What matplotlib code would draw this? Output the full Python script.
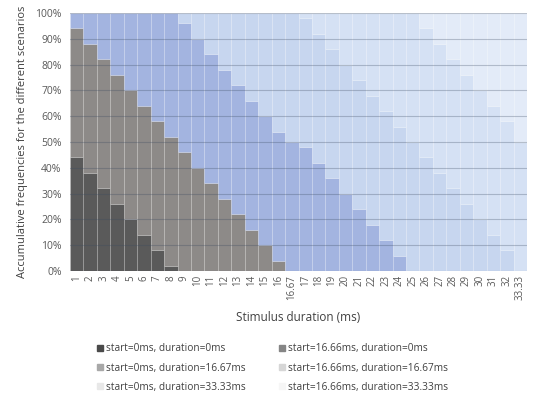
import numpy as np
import matplotlib.pyplot as plt
from matplotlib.patches import Patch
from matplotlib.ticker import FuncFormatter

plt.rcParams['font.family'] = ['Open Sans', 'DejaVu Sans']

durations = ['1', '2', '3', '4', '5', '6', '7', '8', '9', '10', '11', '12', '13', '14', '15', '16',
             '16.67', '17', '18', '19', '20', '21', '22', '23', '24', '25', '26', '27', '28',
             '29', '30', '31', '32', '33.33']

# percent of each scenario per stimulus duration
s0_d0 = [44, 38, 32, 26, 20, 14, 8, 2, 0, 0, 0, 0, 0, 0, 0, 0,
         0, 0, 0, 0, 0, 0, 0, 0, 0, 0, 0, 0, 0, 0, 0, 0, 0, 0]
s16_d0 = [50, 50, 50, 50, 50, 50, 50, 50, 46, 40, 34, 28, 22, 16, 10, 4,
          0, 0, 0, 0, 0, 0, 0, 0, 0, 0, 0, 0, 0, 0, 0, 0, 0, 0]
s0_d16 = [6, 12, 18, 24, 30, 36, 42, 48, 50, 50, 50, 50, 50, 50, 50, 50,
          50, 48, 42, 36, 30, 24, 18, 12, 6, 0, 0, 0, 0, 0, 0, 0, 0, 0]
s16_d16 = [0, 0, 0, 0, 0, 0, 0, 0, 4, 10, 16, 22, 28, 34, 40, 46,
           50, 50, 50, 50, 50, 50, 50, 50, 50, 50, 44, 38, 32, 26, 20, 14, 8, 0]
s0_d33 = [0, 0, 0, 0, 0, 0, 0, 0, 0, 0, 0, 0, 0, 0, 0, 0,
          0, 2, 8, 14, 20, 26, 32, 38, 44, 50, 50, 50, 50, 50, 50, 50, 50, 50]
s16_d33 = [0, 0, 0, 0, 0, 0, 0, 0, 0, 0, 0, 0, 0, 0, 0, 0,
           0, 0, 0, 0, 0, 0, 0, 0, 0, 0, 6, 12, 18, 24, 30, 36, 42, 50]

series = [s0_d0, s16_d0, s0_d16, s16_d16, s0_d33, s16_d33]
names = ['start=0ms, duration=0ms', 'start=16.66ms, duration=0ms',
         'start=0ms, duration=16.67ms', 'start=16.66ms, duration=16.67ms',
         'start=0ms, duration=33.33ms', 'start=16.66ms, duration=33.33ms']
bar_colors = ['#5a5a5a', '#8d8a88', '#a3b4e0', '#c7d6ef', '#d5e1f4', '#e3ebf8']
legend_colors = ['#4a4a4a', '#858585', '#a8a8a8', '#d6d6d6', '#e8e8e8', '#f6f6f6']

fig = plt.figure(figsize=(5.4, 4.03), dpi=100)
ax = fig.add_axes([70/540, 1-271/403, 457/540, 258/403])

x = np.arange(len(durations))
bottom = np.zeros(len(durations))
for vals, c in zip(series, bar_colors):
    ax.bar(x, vals, bottom=bottom, width=1.0, color=c,
           edgecolor=(1, 1, 1, 0.18), linewidth=0.5, zorder=1)
    bottom += np.array(vals)

ax.set_xlim(-0.5, len(durations) - 0.5)
ax.set_ylim(0, 100)
ax.set_yticks(np.arange(0, 101, 10))
ax.yaxis.set_major_formatter(FuncFormatter(lambda v, p: '%d%%' % v))
ax.set_xticks(x)
ax.set_xticklabels(durations, rotation=90, fontsize=7)
ax.tick_params(axis='y', labelsize=7.5, length=0, pad=6, colors='#595959')
ax.tick_params(axis='x', length=0, pad=3, colors='#595959')
for yv in np.arange(0, 101, 10):
    ax.axhline(yv, color='#3c4a60', alpha=0.3, linewidth=0.8, zorder=2)
for sp in ax.spines.values():
    sp.set_visible(False)

ax.set_xlabel('Stimulus duration (ms)', fontsize=8.5, color='#404040', labelpad=8)
ax.set_ylabel('Accumulative frequencies for the different scenarios', fontsize=8,
              color='#404040', labelpad=5)

handles = [Patch(color=c, label=n) for c, n in zip(legend_colors, names)]
order = [0, 2, 4, 1, 3, 5]
fig.legend([handles[i] for i in order], [names[i] for i in order], ncol=2,
           loc='center', bbox_to_anchor=(0.505, 1-368/403), frameon=False,
           fontsize=7.3, handlelength=0.6, handleheight=0.6, handletextpad=0.3,
           columnspacing=3.3, labelspacing=0.8, labelcolor='#404040')

fig.savefig('out.png', dpi=100)
